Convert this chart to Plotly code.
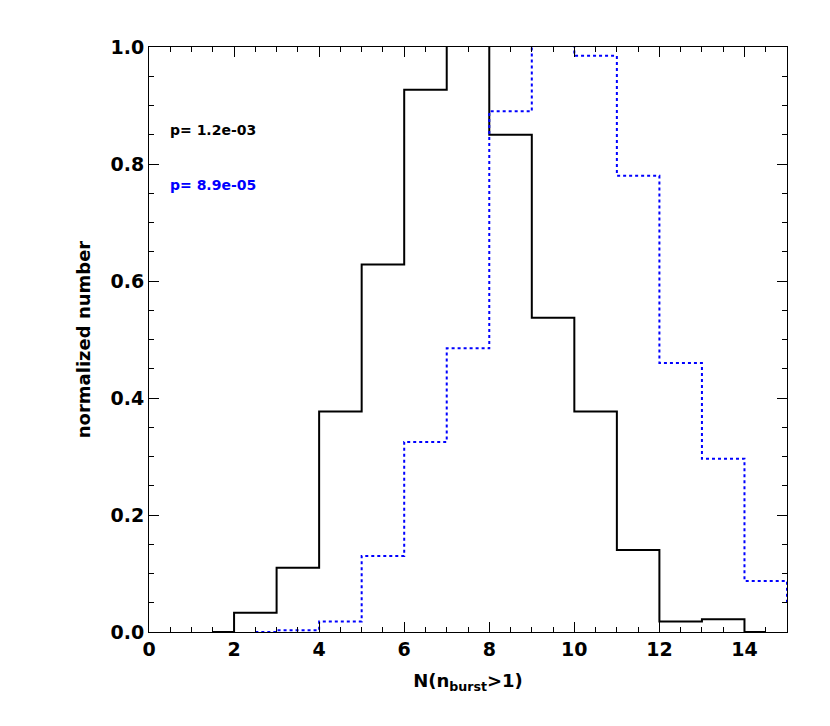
import plotly.graph_objects as go

# bin edges and normalized counts
black_x = [1.5, 2, 3, 4, 5, 6, 7, 8, 9, 10, 11, 12, 13, 14, 14.5]
black_y = [0, 0.033, 0.11, 0.377, 0.628, 0.927, 1.05, 0.85, 0.537, 0.377, 0.14, 0.018, 0.022, 0, 0]

blue_x = [2.5, 3, 4, 5, 6, 7, 8, 9, 10, 11, 12, 13, 14, 15]
blue_y = [0, 0.003, 0.018, 0.13, 0.325, 0.485, 0.89, 1.05, 0.985, 0.78, 0.46, 0.296, 0.087, 0.05]

p_black = "p= 1.2e-03"
p_blue = "p= 8.9e-05"

fig = go.Figure()
fig.add_trace(go.Scatter(x=black_x, y=black_y, mode="lines", line_shape="hv",
                         line=dict(color="black", width=2), cliponaxis=True))
fig.add_trace(go.Scatter(x=blue_x, y=blue_y, mode="lines", line_shape="hv",
                         line=dict(color="blue", width=2, dash="dot"), cliponaxis=True))

fig.add_annotation(x=0.45, y=0.858, text="<b>" + p_black + "</b>", showarrow=False,
                   xanchor="left", font=dict(color="black", size=14))
fig.add_annotation(x=0.45, y=0.764, text="<b>" + p_blue + "</b>", showarrow=False,
                   xanchor="left", font=dict(color="blue", size=14))

axis_common = dict(showgrid=False, zeroline=False, showline=True, linecolor="black",
                   linewidth=1, mirror="ticks", ticks="inside", ticklen=10,
                   tickcolor="black", tickfont=dict(size=19, color="black"))

fig.update_xaxes(range=[0, 15], dtick=2, tick0=0, tickprefix="<b>", ticksuffix="</b>",
                 minor=dict(dtick=0.5, ticks="inside", ticklen=5, tickcolor="black"),
                 title=dict(text="<b>N(n<sub>burst</sub>>1)</b>", font=dict(size=18, color="black")),
                 **axis_common)
fig.update_yaxes(range=[0, 1], dtick=0.2, tick0=0, tickformat=".1f",
                 tickprefix="<b>", ticksuffix="</b>",
                 minor=dict(dtick=0.05, ticks="inside", ticklen=5, tickcolor="black"),
                 title=dict(text="<b>normalized number</b>", font=dict(size=18, color="black")),
                 **axis_common)

fig.update_layout(width=830, height=726, showlegend=False,
                  plot_bgcolor="white", paper_bgcolor="white",
                  margin=dict(l=141, r=51, t=39, b=102),
                  font=dict(family="DejaVu Sans", color="black"))

fig.write_html("out.html")
